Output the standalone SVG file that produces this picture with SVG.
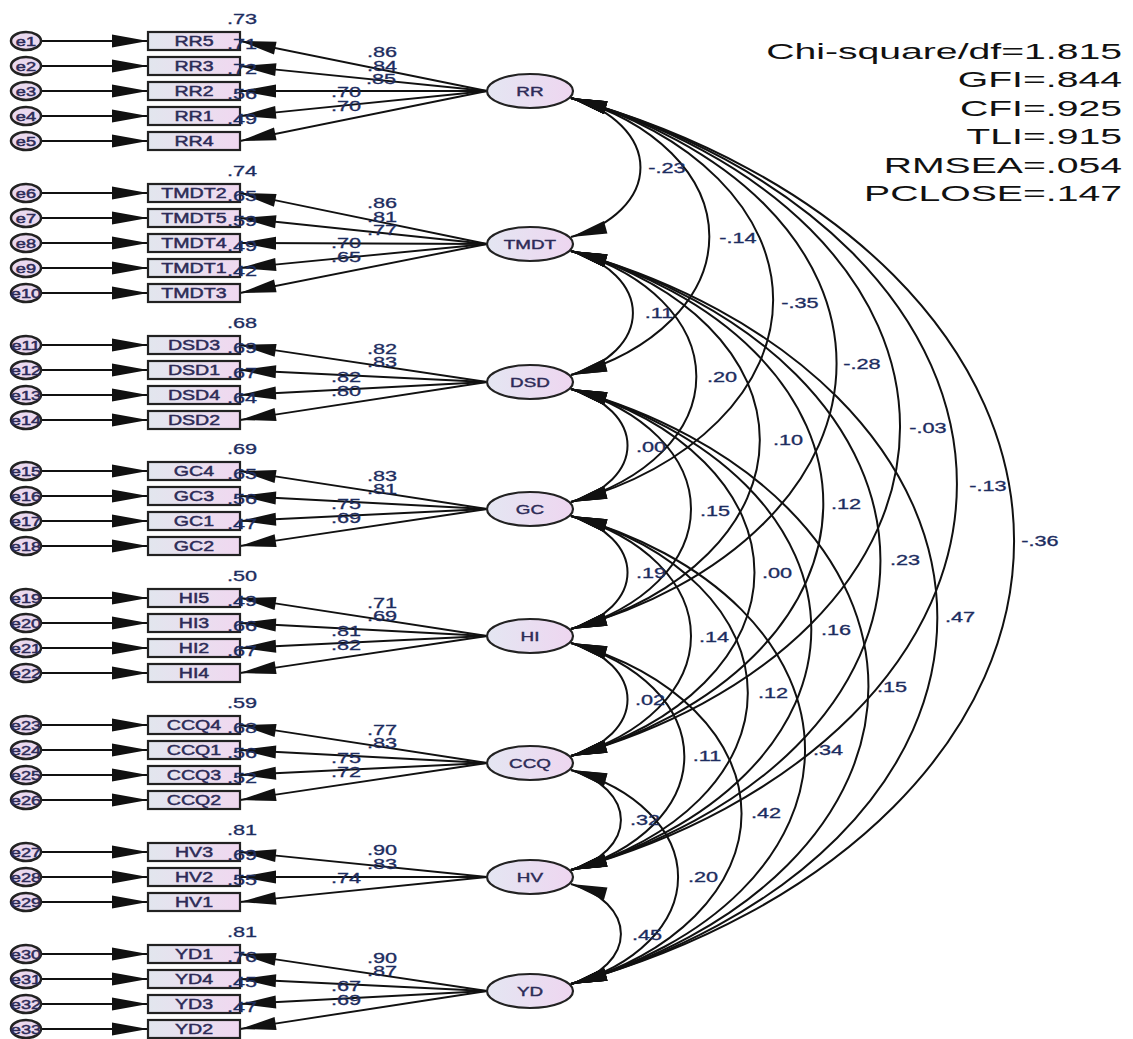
<svg xmlns="http://www.w3.org/2000/svg" width="1133" height="1039" viewBox="0 0 1133 1039">
<defs>
<linearGradient id="gBox" x1="0" x2="1" y1="0" y2="0"><stop offset="0" stop-color="#e2e6ee"/><stop offset="1" stop-color="#f0d8f0"/></linearGradient>
<linearGradient id="gLat" x1="0" x2="1" y1="0" y2="0"><stop offset="0" stop-color="#e4e6f2"/><stop offset="1" stop-color="#eed6f0"/></linearGradient>
<marker id="ah" markerUnits="userSpaceOnUse" markerWidth="38" markerHeight="15" refX="36" refY="6.5" orient="auto-start-reverse" overflow="visible"><path d="M0,0 L36,6.5 L0,13 z" fill="#111"/></marker>
</defs>
<style>
.box{fill:url(#gBox);stroke:#222;stroke-width:2.2}
.lat{fill:url(#gLat);stroke:#222;stroke-width:2.2}
.err{fill:#ead9ef;stroke:#222;stroke-width:2.5}
.ln{fill:none;stroke:#111;stroke-width:1.9;marker-end:url(#ah)}
.cv{fill:none;stroke:#111;stroke-width:2;marker-start:url(#ah);marker-end:url(#ah)}
text{font-family:"Liberation Sans",Arial,sans-serif;transform-box:fill-box}
.nm{font-size:14px;fill:#2d2b57;stroke:#2d2b57;stroke-width:0.45;text-anchor:middle;transform-origin:center;transform:scaleX(1.4)}
.ln2{font-size:13px;fill:#2d2b57;stroke:#2d2b57;stroke-width:0.4;text-anchor:middle;transform-origin:center;transform:scaleX(1.45)}
.en{font-size:13px;fill:#2d2b57;stroke:#2d2b57;stroke-width:0.5;text-anchor:middle;transform-origin:center;transform:scaleX(1.4)}
.num{font-size:14px;fill:#1d2d5f;stroke:#1d2d5f;stroke-width:0.3;text-anchor:middle;transform-origin:center;transform:scaleX(1.55)}
.fit{font-size:22px;fill:#111;text-anchor:end;transform-origin:right center;transform:scaleX(1.78)}
</style>
<rect width="1133" height="1039" fill="#fff"/>

<g id="connectors">
<path class="ln" d="M41,41H148"/><path class="ln" d="M41,66H148"/><path class="ln" d="M41,91H148"/><path class="ln" d="M41,116H148"/><path class="ln" d="M41,141H148"/>
<path class="ln" d="M41,193H148"/><path class="ln" d="M41,218H148"/><path class="ln" d="M41,243H148"/><path class="ln" d="M41,268H148"/><path class="ln" d="M41,293H148"/>
<path class="ln" d="M41,345H148"/><path class="ln" d="M41,370H148"/><path class="ln" d="M41,395H148"/><path class="ln" d="M41,420H148"/>
<path class="ln" d="M41,471H148"/><path class="ln" d="M41,496H148"/><path class="ln" d="M41,521H148"/><path class="ln" d="M41,546H148"/>
<path class="ln" d="M41,598H148"/><path class="ln" d="M41,623H148"/><path class="ln" d="M41,648H148"/><path class="ln" d="M41,673H148"/>
<path class="ln" d="M41,725H148"/><path class="ln" d="M41,750H148"/><path class="ln" d="M41,775H148"/><path class="ln" d="M41,800H148"/>
<path class="ln" d="M41,852H148"/><path class="ln" d="M41,877H148"/><path class="ln" d="M41,902H148"/>
<path class="ln" d="M41,954H148"/><path class="ln" d="M41,979H148"/><path class="ln" d="M41,1004H148"/><path class="ln" d="M41,1029H148"/>
<path class="ln" d="M487,91L240,41"/><path class="ln" d="M487,91L240,66"/><path class="ln" d="M487,91L240,91"/><path class="ln" d="M487,91L240,116"/><path class="ln" d="M487,91L240,141"/>
<path class="ln" d="M487,244L240,193"/><path class="ln" d="M487,244L240,218"/><path class="ln" d="M487,244L240,243"/><path class="ln" d="M487,244L240,268"/><path class="ln" d="M487,244L240,293"/>
<path class="ln" d="M487,382L240,345"/><path class="ln" d="M487,382L240,370"/><path class="ln" d="M487,382L240,395"/><path class="ln" d="M487,382L240,420"/>
<path class="ln" d="M487,509L240,471"/><path class="ln" d="M487,509L240,496"/><path class="ln" d="M487,509L240,521"/><path class="ln" d="M487,509L240,546"/>
<path class="ln" d="M487,636L240,598"/><path class="ln" d="M487,636L240,623"/><path class="ln" d="M487,636L240,648"/><path class="ln" d="M487,636L240,673"/>
<path class="ln" d="M487,763L240,725"/><path class="ln" d="M487,763L240,750"/><path class="ln" d="M487,763L240,775"/><path class="ln" d="M487,763L240,800"/>
<path class="ln" d="M487,877L240,852"/><path class="ln" d="M487,877L240,877"/><path class="ln" d="M487,877L240,902"/>
<path class="ln" d="M487,991L240,954"/><path class="ln" d="M487,991L240,979"/><path class="ln" d="M487,991L240,1004"/><path class="ln" d="M487,991L240,1029"/>
<path class="cv" d="M571,98A112.9,75.3 0 0 1 571,237"/>
<path class="cv" d="M571,98A225.1,150.1 0 0 1 571,375"/>
<path class="cv" d="M571,98A328.3,218.8 0 0 1 571,502"/>
<path class="cv" d="M571,98A431.4,287.6 0 0 1 571,629"/>
<path class="cv" d="M571,98A534.6,356.4 0 0 1 571,756"/>
<path class="cv" d="M571,98A627.3,418.2 0 0 1 571,870"/>
<path class="cv" d="M571,98A719.9,479.9 0 0 1 571,984"/>
<path class="cv" d="M571,251A100.8,67.2 0 0 1 571,375"/>
<path class="cv" d="M571,251A203.9,136 0 0 1 571,502"/>
<path class="cv" d="M571,251A307.1,204.8 0 0 1 571,629"/>
<path class="cv" d="M571,251A410.3,273.6 0 0 1 571,756"/>
<path class="cv" d="M571,251A502.9,335.3 0 0 1 571,870"/>
<path class="cv" d="M571,251A595.6,397.1 0 0 1 571,984"/>
<path class="cv" d="M571,389A91.8,61.2 0 0 1 571,502"/>
<path class="cv" d="M571,389A195,130 0 0 1 571,629"/>
<path class="cv" d="M571,389A298.2,198.8 0 0 1 571,756"/>
<path class="cv" d="M571,389A390.8,260.6 0 0 1 571,870"/>
<path class="cv" d="M571,389A483.4,322.3 0 0 1 571,984"/>
<path class="cv" d="M571,516A91.8,61.2 0 0 1 571,629"/>
<path class="cv" d="M571,516A195,130 0 0 1 571,756"/>
<path class="cv" d="M571,516A287.6,191.8 0 0 1 571,870"/>
<path class="cv" d="M571,516A380.3,253.5 0 0 1 571,984"/>
<path class="cv" d="M571,643A91.8,61.2 0 0 1 571,756"/>
<path class="cv" d="M571,643A184.4,123 0 0 1 571,870"/>
<path class="cv" d="M571,643A277.1,184.7 0 0 1 571,984"/>
<path class="cv" d="M571,770A81.3,54.2 0 0 1 571,870"/>
<path class="cv" d="M571,770A173.9,115.9 0 0 1 571,984"/>
<path class="cv" d="M571,884A81.3,54.2 0 0 1 571,984"/>
</g>

<g id="loading-labels">
<text class="num" x="382" y="57">.86</text><text class="num" x="382" y="71">.84</text><text class="num" x="381" y="84">.85</text><text class="num" x="346" y="97">.70</text><text class="num" x="346" y="111">.70</text>
<text class="num" x="382" y="208">.86</text><text class="num" x="382" y="222">.81</text><text class="num" x="382" y="235">.77</text><text class="num" x="346" y="248">.70</text><text class="num" x="346" y="262">.65</text>
<text class="num" x="382" y="354">.82</text><text class="num" x="382" y="367">.83</text><text class="num" x="346" y="382">.82</text><text class="num" x="346" y="396">.80</text>
<text class="num" x="382" y="481">.83</text><text class="num" x="382" y="494">.81</text><text class="num" x="346" y="509">.75</text><text class="num" x="346" y="523">.69</text>
<text class="num" x="382" y="608">.71</text><text class="num" x="382" y="621">.69</text><text class="num" x="346" y="636">.81</text><text class="num" x="346" y="650">.82</text>
<text class="num" x="382" y="735">.77</text><text class="num" x="382" y="748">.83</text><text class="num" x="346" y="763">.75</text><text class="num" x="346" y="777">.72</text>
<text class="num" x="382" y="855">.90</text><text class="num" x="382" y="869">.83</text><text class="num" x="346" y="883">.74</text>
<text class="num" x="382" y="963">.90</text><text class="num" x="382" y="976">.87</text><text class="num" x="346" y="991">.67</text><text class="num" x="346" y="1005">.69</text>
</g>

<g id="covariance-labels">
<text class="num" x="667" y="173">-.23</text>
<text class="num" x="738" y="243">-.14</text>
<text class="num" x="800" y="308">-.35</text>
<text class="num" x="862" y="369">-.28</text>
<text class="num" x="928" y="433">-.03</text>
<text class="num" x="988" y="491">-.13</text>
<text class="num" x="1040" y="546">-.36</text>
<text class="num" x="659" y="318">.11</text>
<text class="num" x="722" y="382">.20</text>
<text class="num" x="788" y="445">.10</text>
<text class="num" x="846" y="509">.12</text>
<text class="num" x="905" y="565">.23</text>
<text class="num" x="960" y="622">.47</text>
<text class="num" x="651" y="452">.00</text>
<text class="num" x="715" y="516">.15</text>
<text class="num" x="777" y="578">.00</text>
<text class="num" x="836" y="635">.16</text>
<text class="num" x="892" y="692">.15</text>
<text class="num" x="651" y="578">.19</text>
<text class="num" x="714" y="642">.14</text>
<text class="num" x="773" y="698">.12</text>
<text class="num" x="828" y="755">.34</text>
<text class="num" x="650" y="705">.02</text>
<text class="num" x="707" y="761">.11</text>
<text class="num" x="766" y="818">.42</text>
<text class="num" x="645" y="825">.32</text>
<text class="num" x="703" y="882">.20</text>
<text class="num" x="647" y="940">.45</text>
</g>

<g id="e1"><ellipse class="err" cx="26" cy="41" rx="15" ry="9"/><text class="en" x="26" y="46">e1</text></g>
<g id="e2"><ellipse class="err" cx="26" cy="66" rx="15" ry="9"/><text class="en" x="26" y="71">e2</text></g>
<g id="e3"><ellipse class="err" cx="26" cy="91" rx="15" ry="9"/><text class="en" x="26" y="96">e3</text></g>
<g id="e4"><ellipse class="err" cx="26" cy="116" rx="15" ry="9"/><text class="en" x="26" y="121">e4</text></g>
<g id="e5"><ellipse class="err" cx="26" cy="141" rx="15" ry="9"/><text class="en" x="26" y="146">e5</text></g>
<g id="e6"><ellipse class="err" cx="26" cy="193" rx="15" ry="9"/><text class="en" x="26" y="198">e6</text></g>
<g id="e7"><ellipse class="err" cx="26" cy="218" rx="15" ry="9"/><text class="en" x="26" y="223">e7</text></g>
<g id="e8"><ellipse class="err" cx="26" cy="243" rx="15" ry="9"/><text class="en" x="26" y="248">e8</text></g>
<g id="e9"><ellipse class="err" cx="26" cy="268" rx="15" ry="9"/><text class="en" x="26" y="273">e9</text></g>
<g id="e10"><ellipse class="err" cx="26" cy="293" rx="15" ry="9"/><text class="en" x="26" y="298">e10</text></g>
<g id="e11"><ellipse class="err" cx="26" cy="345" rx="15" ry="9"/><text class="en" x="26" y="350">e11</text></g>
<g id="e12"><ellipse class="err" cx="26" cy="370" rx="15" ry="9"/><text class="en" x="26" y="375">e12</text></g>
<g id="e13"><ellipse class="err" cx="26" cy="395" rx="15" ry="9"/><text class="en" x="26" y="400">e13</text></g>
<g id="e14"><ellipse class="err" cx="26" cy="420" rx="15" ry="9"/><text class="en" x="26" y="425">e14</text></g>
<g id="e15"><ellipse class="err" cx="26" cy="471" rx="15" ry="9"/><text class="en" x="26" y="476">e15</text></g>
<g id="e16"><ellipse class="err" cx="26" cy="496" rx="15" ry="9"/><text class="en" x="26" y="501">e16</text></g>
<g id="e17"><ellipse class="err" cx="26" cy="521" rx="15" ry="9"/><text class="en" x="26" y="526">e17</text></g>
<g id="e18"><ellipse class="err" cx="26" cy="546" rx="15" ry="9"/><text class="en" x="26" y="551">e18</text></g>
<g id="e19"><ellipse class="err" cx="26" cy="598" rx="15" ry="9"/><text class="en" x="26" y="603">e19</text></g>
<g id="e20"><ellipse class="err" cx="26" cy="623" rx="15" ry="9"/><text class="en" x="26" y="628">e20</text></g>
<g id="e21"><ellipse class="err" cx="26" cy="648" rx="15" ry="9"/><text class="en" x="26" y="653">e21</text></g>
<g id="e22"><ellipse class="err" cx="26" cy="673" rx="15" ry="9"/><text class="en" x="26" y="678">e22</text></g>
<g id="e23"><ellipse class="err" cx="26" cy="725" rx="15" ry="9"/><text class="en" x="26" y="730">e23</text></g>
<g id="e24"><ellipse class="err" cx="26" cy="750" rx="15" ry="9"/><text class="en" x="26" y="755">e24</text></g>
<g id="e25"><ellipse class="err" cx="26" cy="775" rx="15" ry="9"/><text class="en" x="26" y="780">e25</text></g>
<g id="e26"><ellipse class="err" cx="26" cy="800" rx="15" ry="9"/><text class="en" x="26" y="805">e26</text></g>
<g id="e27"><ellipse class="err" cx="26" cy="852" rx="15" ry="9"/><text class="en" x="26" y="857">e27</text></g>
<g id="e28"><ellipse class="err" cx="26" cy="877" rx="15" ry="9"/><text class="en" x="26" y="882">e28</text></g>
<g id="e29"><ellipse class="err" cx="26" cy="902" rx="15" ry="9"/><text class="en" x="26" y="907">e29</text></g>
<g id="e30"><ellipse class="err" cx="26" cy="954" rx="15" ry="9"/><text class="en" x="26" y="959">e30</text></g>
<g id="e31"><ellipse class="err" cx="26" cy="979" rx="15" ry="9"/><text class="en" x="26" y="984">e31</text></g>
<g id="e32"><ellipse class="err" cx="26" cy="1004" rx="15" ry="9"/><text class="en" x="26" y="1009">e32</text></g>
<g id="e33"><ellipse class="err" cx="26" cy="1029" rx="15" ry="9"/><text class="en" x="26" y="1034">e33</text></g>

<g id="RR5"><rect class="box" x="148" y="32" width="92" height="18"/><text class="nm" x="194" y="46">RR5</text><text class="num" x="242" y="24">.73</text></g>
<g id="RR3"><rect class="box" x="148" y="57" width="92" height="18"/><text class="nm" x="194" y="71">RR3</text><text class="num" x="242" y="49">.71</text></g>
<g id="RR2"><rect class="box" x="148" y="82" width="92" height="18"/><text class="nm" x="194" y="96">RR2</text><text class="num" x="242" y="74">.72</text></g>
<g id="RR1"><rect class="box" x="148" y="107" width="92" height="18"/><text class="nm" x="194" y="121">RR1</text><text class="num" x="242" y="99">.56</text></g>
<g id="RR4"><rect class="box" x="148" y="132" width="92" height="18"/><text class="nm" x="194" y="146">RR4</text><text class="num" x="242" y="124">.49</text></g>
<g id="TMDT2"><rect class="box" x="148" y="184" width="92" height="18"/><text class="nm" x="194" y="198">TMDT2</text><text class="num" x="242" y="176">.74</text></g>
<g id="TMDT5"><rect class="box" x="148" y="209" width="92" height="18"/><text class="nm" x="194" y="223">TMDT5</text><text class="num" x="242" y="201">.65</text></g>
<g id="TMDT4"><rect class="box" x="148" y="234" width="92" height="18"/><text class="nm" x="194" y="248">TMDT4</text><text class="num" x="242" y="226">.59</text></g>
<g id="TMDT1"><rect class="box" x="148" y="259" width="92" height="18"/><text class="nm" x="194" y="273">TMDT1</text><text class="num" x="242" y="251">.49</text></g>
<g id="TMDT3"><rect class="box" x="148" y="284" width="92" height="18"/><text class="nm" x="194" y="298">TMDT3</text><text class="num" x="242" y="276">.42</text></g>
<g id="DSD3"><rect class="box" x="148" y="336" width="92" height="18"/><text class="nm" x="194" y="350">DSD3</text><text class="num" x="242" y="328">.68</text></g>
<g id="DSD1"><rect class="box" x="148" y="361" width="92" height="18"/><text class="nm" x="194" y="375">DSD1</text><text class="num" x="242" y="353">.69</text></g>
<g id="DSD4"><rect class="box" x="148" y="386" width="92" height="18"/><text class="nm" x="194" y="400">DSD4</text><text class="num" x="242" y="378">.67</text></g>
<g id="DSD2"><rect class="box" x="148" y="411" width="92" height="18"/><text class="nm" x="194" y="425">DSD2</text><text class="num" x="242" y="403">.64</text></g>
<g id="GC4"><rect class="box" x="148" y="462" width="92" height="18"/><text class="nm" x="194" y="476">GC4</text><text class="num" x="242" y="454">.69</text></g>
<g id="GC3"><rect class="box" x="148" y="487" width="92" height="18"/><text class="nm" x="194" y="501">GC3</text><text class="num" x="242" y="479">.65</text></g>
<g id="GC1"><rect class="box" x="148" y="512" width="92" height="18"/><text class="nm" x="194" y="526">GC1</text><text class="num" x="242" y="504">.56</text></g>
<g id="GC2"><rect class="box" x="148" y="537" width="92" height="18"/><text class="nm" x="194" y="551">GC2</text><text class="num" x="242" y="529">.47</text></g>
<g id="HI5"><rect class="box" x="148" y="589" width="92" height="18"/><text class="nm" x="194" y="603">HI5</text><text class="num" x="242" y="581">.50</text></g>
<g id="HI3"><rect class="box" x="148" y="614" width="92" height="18"/><text class="nm" x="194" y="628">HI3</text><text class="num" x="242" y="606">.49</text></g>
<g id="HI2"><rect class="box" x="148" y="639" width="92" height="18"/><text class="nm" x="194" y="653">HI2</text><text class="num" x="242" y="631">.66</text></g>
<g id="HI4"><rect class="box" x="148" y="664" width="92" height="18"/><text class="nm" x="194" y="678">HI4</text><text class="num" x="242" y="656">.67</text></g>
<g id="CCQ4"><rect class="box" x="148" y="716" width="92" height="18"/><text class="nm" x="194" y="730">CCQ4</text><text class="num" x="242" y="708">.59</text></g>
<g id="CCQ1"><rect class="box" x="148" y="741" width="92" height="18"/><text class="nm" x="194" y="755">CCQ1</text><text class="num" x="242" y="733">.68</text></g>
<g id="CCQ3"><rect class="box" x="148" y="766" width="92" height="18"/><text class="nm" x="194" y="780">CCQ3</text><text class="num" x="242" y="758">.56</text></g>
<g id="CCQ2"><rect class="box" x="148" y="791" width="92" height="18"/><text class="nm" x="194" y="805">CCQ2</text><text class="num" x="242" y="783">.52</text></g>
<g id="HV3"><rect class="box" x="148" y="843" width="92" height="18"/><text class="nm" x="194" y="857">HV3</text><text class="num" x="242" y="835">.81</text></g>
<g id="HV2"><rect class="box" x="148" y="868" width="92" height="18"/><text class="nm" x="194" y="882">HV2</text><text class="num" x="242" y="860">.69</text></g>
<g id="HV1"><rect class="box" x="148" y="893" width="92" height="18"/><text class="nm" x="194" y="907">HV1</text><text class="num" x="242" y="885">.55</text></g>
<g id="YD1"><rect class="box" x="148" y="945" width="92" height="18"/><text class="nm" x="194" y="959">YD1</text><text class="num" x="242" y="937">.81</text></g>
<g id="YD4"><rect class="box" x="148" y="970" width="92" height="18"/><text class="nm" x="194" y="984">YD4</text><text class="num" x="242" y="962">.76</text></g>
<g id="YD3"><rect class="box" x="148" y="995" width="92" height="18"/><text class="nm" x="194" y="1009">YD3</text><text class="num" x="242" y="987">.45</text></g>
<g id="YD2"><rect class="box" x="148" y="1020" width="92" height="18"/><text class="nm" x="194" y="1034">YD2</text><text class="num" x="242" y="1012">.47</text></g>

<g id="RR"><ellipse class="lat" cx="530" cy="91" rx="43" ry="17"/><text class="ln2" x="530" y="96">RR</text></g>
<g id="TMDT"><ellipse class="lat" cx="530" cy="244" rx="43" ry="17"/><text class="ln2" x="530" y="249">TMDT</text></g>
<g id="DSD"><ellipse class="lat" cx="530" cy="382" rx="43" ry="17"/><text class="ln2" x="530" y="387">DSD</text></g>
<g id="GC"><ellipse class="lat" cx="530" cy="509" rx="43" ry="17"/><text class="ln2" x="530" y="514">GC</text></g>
<g id="HI"><ellipse class="lat" cx="530" cy="636" rx="43" ry="17"/><text class="ln2" x="530" y="641">HI</text></g>
<g id="CCQ"><ellipse class="lat" cx="530" cy="763" rx="43" ry="17"/><text class="ln2" x="530" y="768">CCQ</text></g>
<g id="HV"><ellipse class="lat" cx="530" cy="877" rx="43" ry="17"/><text class="ln2" x="530" y="882">HV</text></g>
<g id="YD"><ellipse class="lat" cx="530" cy="991" rx="43" ry="17"/><text class="ln2" x="530" y="996">YD</text></g>

<g id="fit-indices">
<text class="fit" x="1122" y="59">Chi-square/df=1.815</text>
<text class="fit" x="1122" y="87">GFI=.844</text>
<text class="fit" x="1122" y="116">CFI=.925</text>
<text class="fit" x="1122" y="144">TLI=.915</text>
<text class="fit" x="1122" y="173">RMSEA=.054</text>
<text class="fit" x="1122" y="201">PCLOSE=.147</text>
</g>
</svg>
